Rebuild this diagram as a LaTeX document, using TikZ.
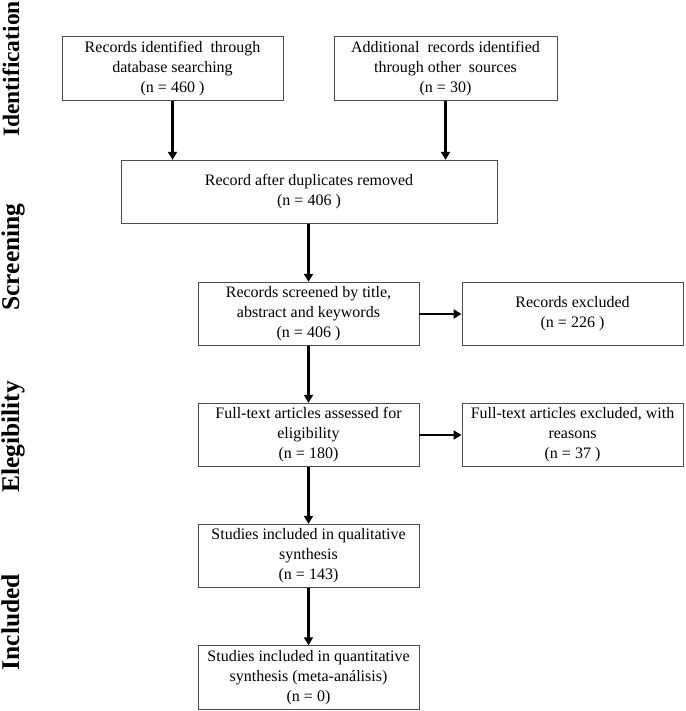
\documentclass[tikz,border=0pt]{standalone}
\usepackage{fontspec}
\setmainfont{Liberation Serif}
\usetikzlibrary{arrows.meta}
\begin{document}
\begin{tikzpicture}[x=1pt,y=-1pt,
  box/.style={draw=black!70, line width=0.9pt, fill=white, align=center, inner sep=0pt,
    font=\fontsize{16}{20}\selectfont, minimum height=63.5pt},
  arr/.style={line width=2.6pt, -{Triangle[length=8pt,width=9pt]}},
  phase/.style={rotate=90, anchor=base, font=\fontsize{25.5}{28}\selectfont\bfseries}
]
\useasboundingbox (0,0) rectangle (685,711);

\node[box, minimum width=221pt] (b1) at (172.5,68.5) {Records identified\ \ through\\database searching\\(n = 460 )};
\node[box, minimum width=223pt] (b2) at (445.5,68.5) {Additional\ \ records identified\\through other\ \ sources\\(n = 30)};
\node[box, minimum width=376pt] (b3) at (309,192) {Record after duplicates removed\\(n = 406 )};
\node[box, minimum width=221pt] (b4) at (308.5,314) {Records screened by title,\\abstract and keywords\\(n = 406 )};
\node[box, minimum width=221pt] (b5) at (572.5,314) {Records excluded\\(n = 226 )};
\node[box, minimum width=221pt] (b6) at (308.5,435) {Full-text articles assessed for\\eligibility\\(n = 180)};
\node[box, minimum width=221pt] (b7) at (572.5,435) {Full-text articles excluded, with\\reasons\\(n = 37 )};
\node[box, minimum width=221pt] (b8) at (308.5,556) {Studies included in qualitative\\synthesis\\(n = 143)};
\node[box, minimum width=221pt] (b9) at (308.5,677.5) {Studies included in quantitative\\synthesis (meta-análisis)\\(n = 0)};

\draw[arr] (b1.south) -- (b1.south |- b3.north);
\draw[arr] (b2.south) -- (b2.south |- b3.north);
\draw[arr] (b3.south -| b4.north) -- (b4.north);
\draw[arr] (b4.east) -- (b5.west);
\draw[arr] (b4.south) -- (b6.north);
\draw[arr] (b6.east) -- (b7.west);
\draw[arr] (b6.south) -- (b8.north);
\draw[arr] (b8.south) -- (b9.north);

\node[phase, font=\fontsize{23.5}{26}\selectfont\bfseries] (p1) at (19,69) {Identification};
\node[phase] (p2) at (19,257) {Screening};
\node[phase] (p3) at (19,437) {Elegibility};
\node[phase] (p4) at (19,622) {Included};
\end{tikzpicture}
\end{document}
